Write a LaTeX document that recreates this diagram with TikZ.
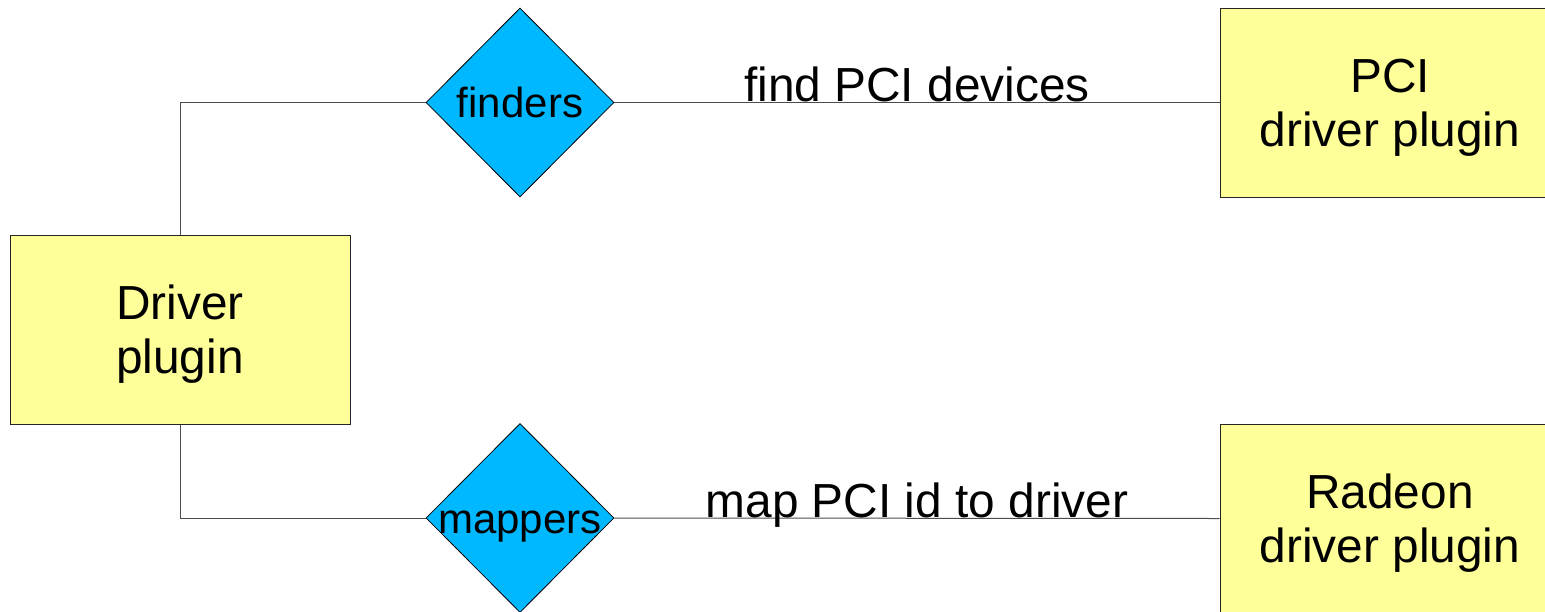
\documentclass[tikz,border=0pt]{standalone}
\usepackage{fontspec}
\setmainfont{Liberation Sans}
\usetikzlibrary{shapes.geometric}
\definecolor{boxyellow}{HTML}{FFFF99}
\definecolor{gateblue}{HTML}{00B8FF}
\begin{document}
\begin{tikzpicture}[x=1pt,y=-1pt,
  plugin/.style={draw=black!85, line width=1pt, fill=boxyellow,
    minimum width=340pt, minimum height=189pt, inner sep=0pt,
    align=center, font=\fontsize{47.8}{54}\selectfont, text depth=0pt},
  gate/.style={diamond, aspect=1, draw=black, line width=0.8pt, fill=gateblue,
    minimum width=188pt, minimum height=189pt, inner sep=0pt},
  gatetext/.style={font=\fontsize{42}{48}\selectfont, inner sep=0pt,
    text height=30pt, text depth=0pt},
  wire/.style={draw=black!70, line width=1pt},
  wirelabel/.style={font=\fontsize{47.8}{54}\selectfont, inner sep=0pt,
    anchor=base, yshift=1pt}]
  \useasboundingbox (0,0) rectangle (1545,611);
  \clip (0,0) rectangle (1545,611);

  % plugin boxes
  \node[plugin] (drv) at (180,329.5) {Driver\\plugin};
  \node[plugin] (pci) at (1390,102.5) {PCI\\driver plugin};
  \node[plugin] (radeon) at (1390,518.5) {Radeon\\driver plugin};

  % extension points
  \node[gate] (find) at (520,102.5) {};
  \node[gate] (map) at (520,518) {};
  \node[gatetext] (findtext) at (find) {finders};
  \node[gatetext] (maptext) at (map) {mappers};

  % connections
  \draw[wire] (drv.north) |- (find.west);
  \draw[wire] (drv.south) |- (map.west);
  \draw[wire] (find.east) -- node[wirelabel] (findlabel) {find PCI devices} (pci.west);
  \draw[wire] (map.east) -- node[wirelabel] (maplabel) {map PCI id to driver} (radeon.west);
\end{tikzpicture}
\end{document}
